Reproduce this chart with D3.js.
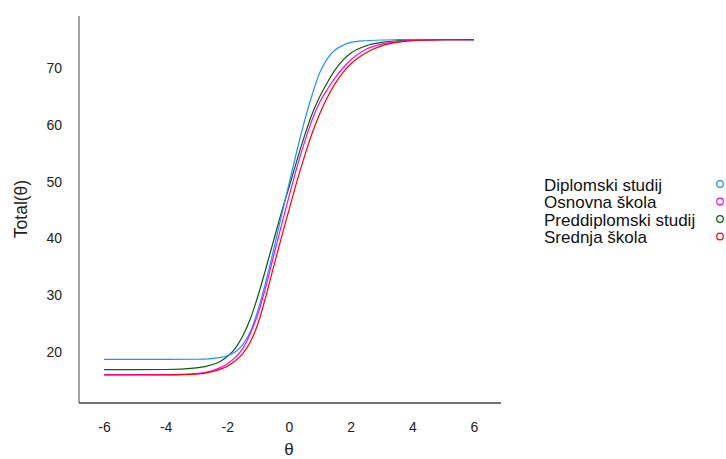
<!DOCTYPE html>
<html><head><meta charset="utf-8">
<script src="https://cdn.jsdelivr.net/npm/d3@7"></script>
<style>body{margin:0;background:#fff}svg{display:block}text{font-family:"Liberation Sans",Arial,sans-serif}</style>
</head><body><svg id="c" width="726" height="459"></svg>
<script>
const theta = [-6,-5,-4,-3,-2.5,-2.25,-2,-1.75,-1.5,-1.25,-1,-0.75,-0.5,-0.25,0,0.25,0.5,0.75,1,1.25,1.5,1.75,2,2.5,3,3.5,4,5,6];
const diplomski =     [18.7,18.7,18.7,18.72,18.85,19.0,19.35,20.0,21.3,23.6,27.5,32.4,38.0,43.9,49.6,55.3,60.6,65.3,69.2,71.7,73.2,74.0,74.5,74.8,74.93,74.98,75,75,75];
const osnovna =       [16.0,16.0,16.02,16.2,16.7,17.2,17.9,19.0,20.6,23.3,26.8,31.5,36.9,42.2,47.4,52.4,56.9,60.9,64.0,66.3,68.3,70.0,71.4,73.3,74.2,74.6,74.85,75,75];
const preddiplomski = [16.9,16.9,16.92,17.2,17.75,18.3,19.2,20.6,22.8,25.9,30.0,34.7,39.6,44.5,49.0,53.6,58.0,61.9,65.0,67.5,69.7,71.4,72.6,73.9,74.5,74.8,74.9,75,75];
const srednja =       [15.95,15.95,15.97,16.1,16.55,16.95,17.5,18.4,19.7,21.8,25.1,29.8,35.0,40.1,45.0,49.9,54.4,58.5,62.0,64.9,67.3,69.2,70.7,72.7,73.9,74.5,74.8,74.97,75];
const seriesNames = ["Diplomski studij","Osnovna škola","Preddiplomski studij","Srednja škola"];
const seriesColors = ["#1E90FF","#FF00FF","#006400","#FF0000"];
const seriesValues = [diplomski, osnovna, preddiplomski, srednja];
const xTicks = [-6,-4,-2,0,2,4,6];
const yTicks = [20,30,40,50,60,70];

const svg = d3.select("#c");
const panel = {left:79, right:501, top:16, bottom:403};
const x = d3.scaleLinear().domain([-6,6]).range([104,474]);
const y = d3.scaleLinear().domain([20,70]).range([352,68]);

const line = d3.line().x((d,i)=>x(theta[i])).y(d=>y(d)).curve(d3.curveMonotoneX);
[2,0,1,3].forEach(k=>{
  svg.append("path").attr("d", line(seriesValues[k])).attr("fill","none")
    .attr("stroke", seriesColors[k]).attr("stroke-width",1.2);
});

svg.append("line").attr("x1",panel.left).attr("x2",panel.left).attr("y1",panel.top).attr("y2",panel.bottom)
  .attr("stroke","#666").attr("stroke-width",1.2);
svg.append("line").attr("x1",panel.left).attr("x2",panel.right).attr("y1",panel.bottom).attr("y2",panel.bottom)
  .attr("stroke","#444").attr("stroke-width",1.4);

const yAxis = svg.append("g").attr("transform",`translate(${panel.left},0)`)
  .call(d3.axisLeft(y).tickValues(yTicks).tickSize(0).tickPadding(17).tickFormat(d=>String(d)));
yAxis.select(".domain").remove();
yAxis.selectAll("text").attr("font-size",14).attr("fill","#222").attr("font-family","Liberation Sans, Arial");

const xAxis = svg.append("g").attr("transform",`translate(0,${panel.bottom})`)
  .call(d3.axisBottom(x).tickValues(xTicks).tickSize(0).tickPadding(19).tickFormat(d=>String(d)));
xAxis.select(".domain").remove();
xAxis.selectAll("text").attr("font-size",14).attr("fill","#222").attr("font-family","Liberation Sans, Arial");

svg.append("text").attr("x",289).attr("y",455).attr("text-anchor","middle").attr("font-size",17).attr("fill","#222").text("θ");
svg.append("text").attr("transform","translate(27,209) rotate(-90)").attr("text-anchor","middle").attr("font-size",17.5).attr("fill","#222").text("Total(θ)");

const leg = svg.append("g");
seriesNames.forEach((n,i)=>{
  leg.append("text").attr("x",544).attr("y",190.5+i*17.5).attr("font-size",17).attr("fill","#111").text(n);
  leg.append("circle").attr("cx",720).attr("cy",184+i*17.5).attr("r",3.3).attr("fill","none")
    .attr("stroke",seriesColors[i]).attr("stroke-width",1.2);
});
</script></body></html>
